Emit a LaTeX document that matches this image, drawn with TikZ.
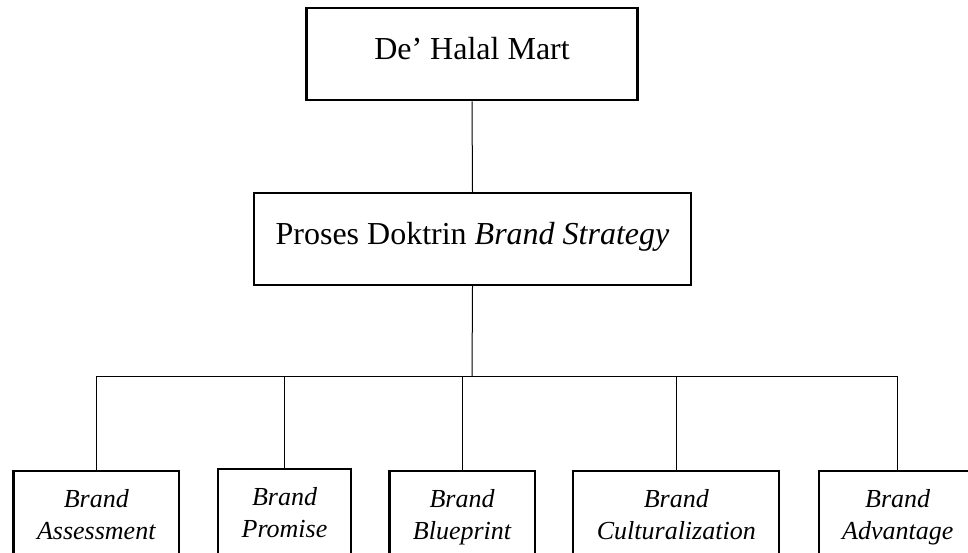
\documentclass[tikz,border=0pt]{standalone}
\usepackage{fontspec}
\setmainfont{Liberation Serif}
\tikzset{head/.style={draw,line width=2.2pt,anchor=north,inner xsep=0pt,inner ysep=0pt,text height=51pt,text depth=41pt,font=\fontsize{32}{38}\selectfont},
         aspect/.style={draw,line width=2.2pt,anchor=north,align=center,inner xsep=23.5pt,inner ysep=18pt,font=\fontsize{26}{32}\selectfont\itshape},
         link/.style={line width=1pt},
        }

\begin{document}
\begin{tikzpicture}[x=1pt,y=-1pt]
        \useasboundingbox(0,0)rectangle(968,553);
        \clip(0,0)rectangle(968,553);
        \node[head,minimum width=331pt](mart)at(472,7.3){De' Halal Mart};
        \node[head,minimum width=436.4pt](strategy)at(472.5,192){Proses Doktrin \textit{Brand Strategy}};

        \node[aspect](assess)at(96.3,470){Brand\\Assessment};
        \node[aspect](promise)at(284.5,468){Brand\\Promise};
        \node[aspect](blueprint)at(462,470){Brand\\Blueprint};
        \node[aspect](cultural)at(676.3,470){Brand\\Culturalization};
        \node[aspect](advantage)at(897.7,470){Brand\\Advantage};

        \coordinate(bar)at(472,376);

        \draw[link](mart.south)--(strategy.north);
        \draw[link](strategy.south)--(bar);
        \draw[link](bar)-|(assess.north);
        \draw[link](bar)-|(promise.north);
        \draw[link](bar)-|(blueprint.north);
        \draw[link](bar)-|(cultural.north);
        \draw[link](bar)-|(advantage.north);
    \end{tikzpicture}
\end{document}
